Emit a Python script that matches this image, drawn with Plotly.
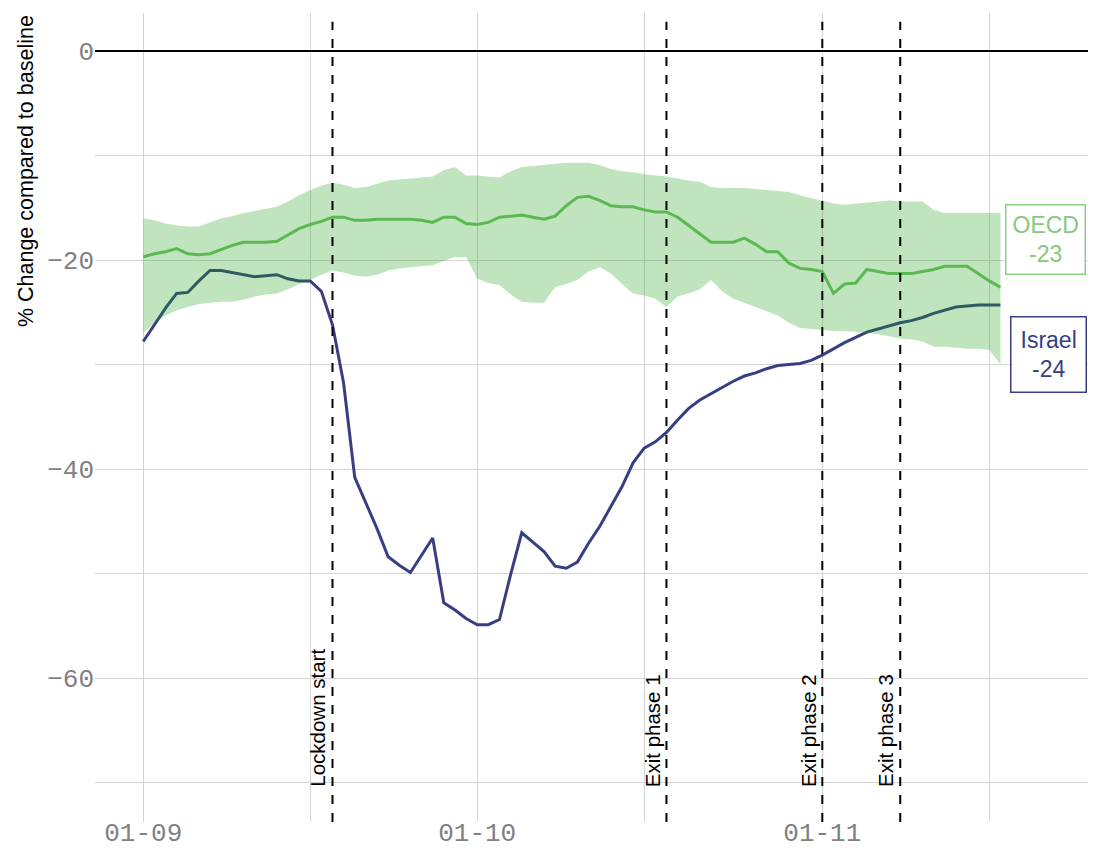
import pandas as pd
import plotly.graph_objects as go

start_date = "2020-09-01"
israel = [-27.8, -26.2, -24.6, -23.2, -23.1, -22.0, -21.0, -21.0, -21.2, -21.4,
          -21.6, -21.5, -21.4, -21.8, -22.0, -22.0, -23.0, -26.2, -31.8, -40.8,
          -43.3, -45.7, -48.4, -49.2, -49.9, -48.2, -46.6, -52.8, -53.5, -54.3,
          -54.9, -54.9, -54.4, -50.1, -46.1, -47.0, -47.9, -49.3, -49.5, -48.9,
          -47.1, -45.5, -43.6, -41.7, -39.4, -38.0, -37.4, -36.5, -35.3, -34.2,
          -33.4, -32.8, -32.2, -31.6, -31.1, -30.8, -30.4, -30.1, -30.0, -29.9,
          -29.6, -29.1, -28.5, -27.9, -27.4, -26.9, -26.6, -26.3, -26.0, -25.8,
          -25.5, -25.1, -24.8, -24.5, -24.4, -24.3, -24.3, -24.3]
oecd = [-19.7, -19.4, -19.2, -18.9, -19.4, -19.5, -19.4, -19.0, -18.6, -18.3,
        -18.3, -18.3, -18.2, -17.6, -17.0, -16.6, -16.3, -15.9, -15.9, -16.2,
        -16.2, -16.1, -16.1, -16.1, -16.1, -16.2, -16.4, -15.9, -15.9, -16.5,
        -16.6, -16.4, -15.9, -15.8, -15.7, -15.9, -16.1, -15.8, -14.8, -14.0,
        -13.9, -14.3, -14.8, -14.9, -14.9, -15.2, -15.4, -15.4, -15.9, -16.7,
        -17.5, -18.3, -18.3, -18.3, -17.9, -18.5, -19.2, -19.2, -20.3, -20.8,
        -20.9, -21.1, -23.2, -22.3, -22.2, -20.9, -21.1, -21.3, -21.3, -21.3,
        -21.1, -20.9, -20.6, -20.6, -20.6, -21.3, -22.0, -22.6]
oecd_upper = [-16.0, -16.2, -16.5, -16.7, -16.8, -16.8, -16.4, -16.0, -15.8, -15.5,
              -15.3, -15.1, -14.9, -14.4, -13.8, -13.3, -12.9, -12.6, -12.8, -13.1,
              -13.0, -12.7, -12.4, -12.3, -12.2, -12.1, -12.0, -11.4, -11.1, -11.9,
              -11.9, -12.0, -12.1, -11.5, -11.1, -11.0, -10.9, -10.8, -10.7, -10.7,
              -10.7, -10.9, -11.3, -11.5, -11.6, -11.8, -11.9, -12.0, -12.2, -12.4,
              -12.5, -13.0, -13.1, -13.1, -13.1, -13.2, -13.3, -13.4, -13.5, -13.8,
              -14.1, -14.3, -14.6, -14.7, -14.6, -14.5, -14.4, -14.3, -14.4, -14.4,
              -14.4, -15.2, -15.5, -15.5, -15.5, -15.5, -15.5, -15.5]
oecd_lower = [-27.0, -26.0, -25.3, -24.8, -24.5, -24.2, -24.1, -24.0, -24.0, -23.8,
              -23.5, -23.3, -23.2, -22.8, -22.3, -21.9, -21.4, -21.0, -21.2, -21.5,
              -21.6, -21.4, -21.0, -20.8, -20.7, -20.6, -20.5, -20.1, -19.7, -19.7,
              -21.8, -22.2, -22.4, -23.3, -24.0, -24.1, -24.1, -22.6, -22.3, -21.9,
              -21.1, -20.7, -21.3, -22.3, -23.2, -23.4, -23.7, -24.5, -23.5, -23.2,
              -22.8, -21.9, -23.0, -23.7, -24.1, -24.5, -24.9, -25.3, -26.0, -26.5,
              -26.6, -26.7, -26.8, -26.8, -26.9, -27.0, -27.1, -27.3, -27.5, -27.6,
              -27.8, -28.3, -28.3, -28.4, -28.5, -28.5, -28.6, -30.0]

event_dates = ["2020-09-18", "2020-10-18", "2020-11-01", "2020-11-08"]
event_labels = ["Lockdown start", "Exit phase 1", "Exit phase 2", "Exit phase 3"]

x_tickvals = ["2020-09-01", "2020-09-16", "2020-10-01", "2020-10-16", "2020-11-01", "2020-11-16"]
x_ticktext = ["01-09", "", "01-10", "", "01-11", ""]
y_tickvals = [0, -10, -20, -30, -40, -50, -60, -70]
y_ticktext = ["0", "", "\u221220", "", "\u221240", "", "\u221260", ""]

dates = pd.date_range(start_date, periods=len(israel), freq="D")

ISRAEL_COL = "rgb(55,63,130)"
OECD_COL = "rgb(92,184,82)"
BAND_COL = "rgba(30,160,20,0.28)"

fig = go.Figure()
fig.add_trace(go.Scatter(x=dates, y=israel, mode="lines", name="Israel",
                         line=dict(color=ISRAEL_COL, width=3)))
fig.add_trace(go.Scatter(x=dates, y=oecd_upper, mode="lines", line=dict(width=0),
                         showlegend=False, hoverinfo="skip"))
fig.add_trace(go.Scatter(x=dates, y=oecd_lower, mode="lines", line=dict(width=0),
                         fill="tonexty", fillcolor=BAND_COL, showlegend=False,
                         hoverinfo="skip"))
fig.add_trace(go.Scatter(x=dates, y=oecd, mode="lines", name="OECD",
                         line=dict(color=OECD_COL, width=3)))

y_min, y_max = -73.78, 3.64

for d, lab in zip(event_dates, event_labels):
    fig.add_shape(type="line", x0=d, x1=d, y0=y_min, y1=2.8, xref="x", yref="y",
                  line=dict(color="black", width=2, dash="dash"))
    fig.add_annotation(x=d, y=-70.6, text=lab, textangle=-90, showarrow=False,
                       xanchor="right", yanchor="bottom", xshift=-1,
                       font=dict(family="Liberation Sans, Arial", size=20.5, color="black"))

fig.add_annotation(x=dates[-1], y=oecd[-1], text="OECD<br>" + str(round(oecd[-1])),
                   showarrow=False, xanchor="left", yanchor="middle", xshift=5, yshift=48,
                   font=dict(family="Liberation Sans, Arial", size=23, color="rgb(134,201,126)"),
                   bgcolor="white", bordercolor="rgb(140,208,132)", borderwidth=1.5, borderpad=6)
fig.add_annotation(x=dates[-1], y=israel[-1], text="Israel<br>" + str(round(israel[-1])),
                   showarrow=False, xanchor="left", yanchor="middle", xshift=10, yshift=-50,
                   font=dict(family="Liberation Sans, Arial", size=23, color=ISRAEL_COL),
                   bgcolor="white", bordercolor=ISRAEL_COL, borderwidth=1.5, borderpad=9)

fig.add_annotation(xref="paper", yref="paper", x=-0.0694, y=1.0,
                   text="% Change compared to baseline", textangle=-90, showarrow=False,
                   xanchor="center", yanchor="top",
                   font=dict(family="Liberation Sans, Arial", size=21.5, color="black"))

fig.update_layout(
    width=1080, height=840,
    margin=dict(l=87, r=0, t=5, b=26),
    paper_bgcolor="white", plot_bgcolor="white",
    showlegend=False,
    xaxis=dict(range=["2020-08-27 16:00", "2020-11-24 20:48"],
               tickvals=x_tickvals, ticktext=x_ticktext, automargin=False,
               ticklabelstandoff=-8,
               showgrid=True, gridcolor="rgb(212,212,212)", gridwidth=1.3,
               zeroline=False, showline=False, ticks="",
               tickfont=dict(family="Liberation Mono, monospace", size=26, color="rgb(128,128,128)")),
    yaxis=dict(range=[y_min, y_max], tickvals=y_tickvals, ticktext=y_ticktext,
               automargin=False,
               showgrid=True, gridcolor="rgb(212,212,212)", gridwidth=1.3,
               zeroline=True, zerolinecolor="black", zerolinewidth=2,
               showline=False, ticks="",
               tickfont=dict(family="Liberation Mono, monospace", size=26, color="rgb(128,128,128)")),
)

fig.write_html("out.html")
